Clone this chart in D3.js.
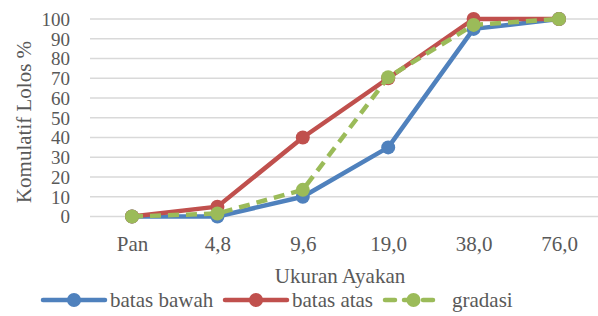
<!DOCTYPE html>
<html>
<head>
<meta charset="utf-8">
<script src="https://cdn.jsdelivr.net/npm/d3@7"></script>
<style>
  body { margin: 0; background: #fff; }
</style>
</head>
<body>
<svg></svg>
<script>
var categories = ["Pan", "4,8", "9,6", "19,0", "38,0", "76,0"];
var batasBawah = [0, 0, 10, 35, 95, 100];
var batasAtas = [0, 5, 40, 70, 100, 100];
var gradasi = [0, 1.5, 13.5, 70.5, 97, 100];
var yTicks = [0, 10, 20, 30, 40, 50, 60, 70, 80, 90, 100];

var series = [
  { name: "batas bawah", values: batasBawah, color: "#4F81BD", dash: null },
  { name: "batas atas", values: batasAtas, color: "#C0504D", dash: null },
  { name: "gradasi", values: gradasi, color: "#9BBB59", dash: "11,7" }
];

var FONT = "Liberation Serif, DejaVu Serif, serif";
var width = 598, height = 316;
var svg = d3.select("svg").attr("width", width).attr("height", height);

// plot area
var x = d3.scalePoint().domain(categories).range([132, 559]);
var y = d3.scaleLinear().domain([0, 100]).range([216.5, 19]);

// gridlines
svg.append("g").selectAll("line")
  .data(yTicks)
  .enter().append("line")
  .attr("x1", 90).attr("x2", 602)
  .attr("y1", function(d) { return y(d); })
  .attr("y2", function(d) { return y(d); })
  .attr("stroke", "#D9D9D9")
  .attr("stroke-width", 1.3);

// y axis labels
var yAxis = d3.axisLeft(y).tickValues(yTicks).tickSize(0).tickPadding(0);
var yg = svg.append("g").attr("transform", "translate(70,0)").call(yAxis);
yg.select(".domain").remove();
yg.attr("font-family", FONT).attr("font-size", 19);
yg.selectAll("text").attr("fill", "#595959").attr("dy", "0.34em");

// x axis labels
var xAxis = d3.axisBottom(x).tickSize(0).tickPadding(0);
var xg = svg.append("g").attr("transform", "translate(0,236)").call(xAxis);
xg.select(".domain").remove();
xg.attr("font-family", FONT).attr("font-size", 21);
xg.selectAll("text").attr("fill", "#595959");

// axis titles
svg.append("text")
  .attr("transform", "translate(31,122) rotate(-90)")
  .attr("text-anchor", "middle")
  .attr("font-family", FONT).attr("font-size", 21)
  .attr("fill", "#595959")
  .text("Komulatif Lolos %");

svg.append("text")
  .attr("x", 340).attr("y", 283)
  .attr("text-anchor", "middle")
  .attr("font-family", FONT).attr("font-size", 21)
  .attr("fill", "#595959")
  .text("Ukuran Ayakan");

// lines
var line = d3.line()
  .x(function(d, i) { return x(categories[i]); })
  .y(function(d) { return y(d); });

series.forEach(function(s) {
  var g = svg.append("g");
  g.append("path")
    .datum(s.values)
    .attr("d", line)
    .attr("fill", "none")
    .attr("stroke", s.color)
    .attr("stroke-width", 4.5)
    .attr("stroke-linejoin", "round")
    .attr("stroke-dasharray", s.dash);
  g.selectAll("circle")
    .data(s.values)
    .enter().append("circle")
    .attr("cx", function(d, i) { return x(categories[i]); })
    .attr("cy", function(d) { return y(d); })
    .attr("r", 7)
    .attr("fill", s.color);
});

// legend
var legendPos = [{ x1: 43, x2: 105, tx: 110 }, { x1: 225, x2: 287, tx: 292 }, { x1: 385, x2: 442, tx: 452 }];
series.forEach(function(s, i) {
  var p = legendPos[i];
  var g = svg.append("g");
  g.append("line")
    .attr("x1", p.x1).attr("x2", p.x2)
    .attr("y1", 300).attr("y2", 300)
    .attr("stroke", s.color)
    .attr("stroke-width", 4.5)
    .attr("stroke-linecap", "round")
    .attr("stroke-dasharray", s.dash ? "10,9" : null);
  g.append("circle")
    .attr("cx", (p.x1 + p.x2) / 2).attr("cy", 300)
    .attr("r", 7).attr("fill", s.color);
  g.append("text")
    .attr("x", p.tx).attr("y", 307)
    .attr("font-family", FONT).attr("font-size", 21)
    .attr("fill", "#595959")
    .text(s.name);
});
</script>
</body>
</html>
